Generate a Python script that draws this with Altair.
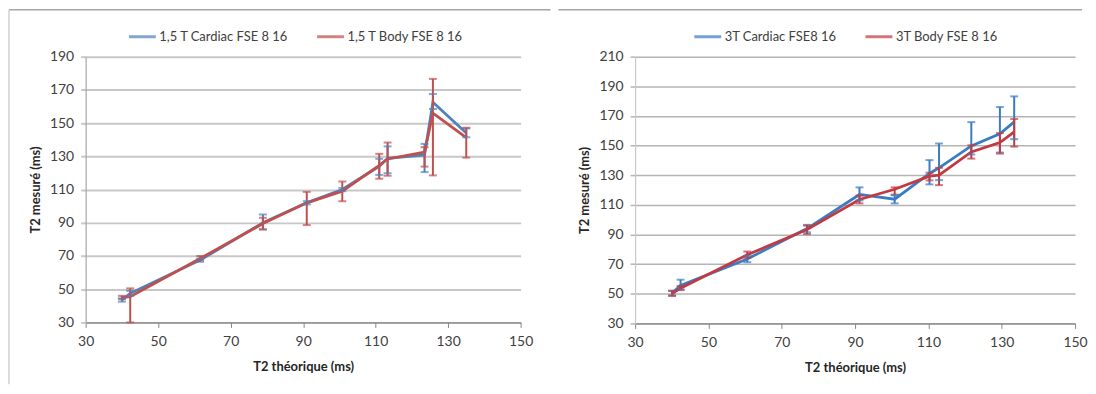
import altair as alt
import pandas as pd

# ---------------- data: left panel (1,5 T) ----------------
x15 = [40.0, 42.3, 61.6, 78.9, 91.0, 100.8, 111.0, 113.3, 123.5, 125.8, 135.0]
card15 = [43.5, 47.5, 67.5, 90.0, 102.0, 110.0, 124.0, 128.8, 130.8, 162.5, 144.0]
card15_lo = [42.5, 46.0, 66.5, 86.0, 101.0, 109.0, 118.8, 119.8, 120.5, 158.5, 141.5]
card15_hi = [44.5, 49.0, 68.5, 95.0, 103.0, 111.0, 128.5, 136.0, 137.5, 167.5, 146.8]
body15 = [45.0, 45.5, 68.5, 89.5, 102.0, 109.0, 124.5, 128.4, 132.5, 156.0, 141.2]
body15_lo = [44.0, 30.0, 67.5, 86.0, 88.6, 103.0, 116.5, 118.3, 123.8, 118.5, 129.2]
body15_hi = [46.0, 50.5, 70.0, 93.0, 108.6, 114.8, 131.5, 138.3, 135.5, 176.6, 147.2]
names15 = ["1,5 T Cardiac FSE 8 16", "1,5 T Body FSE 8 16"]

# ---------------- data: right panel (3 T) ----------------
x3 = [40.1, 42.4, 60.6, 76.9, 91.2, 100.8, 110.3, 112.9, 121.7, 129.5, 133.4]
card3 = [50.5, 55.6, 73.5, 94.0, 117.0, 113.8, 131.2, 135.0, 149.8, 158.0, 166.0]
card3_lo = [49.0, 53.0, 71.3, 91.5, 113.0, 111.0, 123.8, 126.7, 144.0, 145.3, 154.3]
card3_hi = [52.0, 59.5, 75.5, 96.5, 121.8, 116.5, 140.2, 151.4, 165.8, 176.0, 183.2]
body3 = [50.2, 53.8, 76.3, 93.3, 113.6, 120.5, 129.4, 130.0, 145.7, 152.0, 159.3]
body3_lo = [48.5, 52.5, 74.3, 90.3, 111.0, 116.9, 126.5, 123.3, 141.2, 144.6, 149.3]
body3_hi = [52.0, 55.3, 78.5, 96.0, 116.2, 121.8, 131.7, 135.0, 150.2, 158.4, 167.9]
names3 = ["3T Cardiac FSE8 16", "3T Body FSE 8 16"]

x_ticks = [30, 50, 70, 90, 110, 130, 150]
y_ticks15 = [30, 50, 70, 90, 110, 130, 150, 170, 190]
y_ticks3 = [30, 50, 70, 90, 110, 130, 150, 170, 190, 210]

FONT = "Lato"


def make_df(x, c, clo, chi, b, blo, bhi, names):
    rows = []
    for i in range(len(x)):
        rows.append({"x": x[i], "y": c[i], "lo": clo[i], "hi": chi[i], "s": names[0], "o": i})
    for i in range(len(x)):
        rows.append({"x": x[i], "y": b[i], "lo": blo[i], "hi": bhi[i], "s": names[1], "o": i})
    return pd.DataFrame(rows)


def panel(df, names, yticks, w, h, colors, grid_color, grid_w, ydom_color,
          legend_x, top_x2):
    xs = alt.Scale(domain=[30, 150], nice=False, zero=False)
    ys = alt.Scale(domain=[yticks[0], yticks[-1]], nice=False, zero=False)
    xaxis = alt.Axis(values=x_ticks, grid=False, title="T2 théorique (ms)",
                     domainColor="#868686", domainWidth=1.2, tickColor="#868686",
                     tickSize=5, labelFont=FONT, labelFontSize=14, labelColor="#404040",
                     labelPadding=7, labelFlush=False, labelOverlap=False,
                     titleFont=FONT, titleFontSize=13, titleFontWeight="bold",
                     titleColor="#262626", titlePadding=12)
    yaxis = alt.Axis(values=yticks, grid=True, gridColor=grid_color, gridWidth=grid_w,
                     title="T2 mesuré (ms)", domainColor=ydom_color, domainWidth=1.2,
                     tickColor=grid_color, tickSize=5, tickWidth=grid_w,
                     labelFont=FONT, labelFontSize=14, labelColor="#404040",
                     labelPadding=7, labelOverlap=False,
                     titleFont=FONT, titleFontSize=13, titleFontWeight="bold",
                     titleColor="#262626", titlePadding=7)
    legend = alt.Legend(orient="none", legendX=legend_x, legendY=-35,
                        direction="horizontal", title=None, symbolType="stroke",
                        symbolSize=729, symbolStrokeWidth=3, labelFont=FONT,
                        labelFontSize=13, labelColor="#404040", columnPadding=22,
                        labelOffset=2)
    color = alt.Color("s:N", scale=alt.Scale(domain=names, range=colors), legend=legend)

    base = alt.Chart(df)
    line = base.mark_line(strokeWidth=2.8).encode(
        x=alt.X("x:Q", scale=xs, axis=xaxis),
        y=alt.Y("y:Q", scale=ys, axis=yaxis),
        color=color, order="o:Q")
    rule = base.mark_rule(strokeWidth=2).encode(
        x=alt.X("x:Q", scale=xs, axis=xaxis),
        y=alt.Y("lo:Q", scale=ys, axis=yaxis), y2="hi:Q", color=color)
    cap_lo = base.mark_tick(orient="horizontal", size=8, thickness=2).encode(
        x=alt.X("x:Q", scale=xs, axis=xaxis),
        y=alt.Y("lo:Q", scale=ys, axis=yaxis), color=color)
    cap_hi = base.mark_tick(orient="horizontal", size=8, thickness=2).encode(
        x=alt.X("x:Q", scale=xs, axis=xaxis),
        y=alt.Y("hi:Q", scale=ys, axis=yaxis), color=color)
    frame = alt.Chart(pd.DataFrame({"k": [0]})).mark_rule(
        color="#a6a6a6", strokeWidth=1.5).encode(
        x=alt.value(-77), x2=alt.value(top_x2), y=alt.value(-47))
    layers = [frame, line, rule, cap_lo, cap_hi]
    return alt.layer(*layers).properties(width=w, height=h)


df15 = make_df(x15, card15, card15_lo, card15_hi, body15, body15_lo, body15_hi, names15)
df3 = make_df(x3, card3, card3_lo, card3_hi, body3, body3_lo, body3_hi, names3)

left = panel(df15, names15, y_ticks15, 437, 267, ["#4f81bd", "#c0504d"],
             "#c8c8c8", 2, "#a6a6a6", 42, 467)
left_border = alt.Chart(pd.DataFrame({"k": [0]})).mark_rule(
    color="#d0d0d0", strokeWidth=1.5).encode(
    x=alt.value(-77), y=alt.value(-47), y2=alt.value(329))
left = alt.layer(left, left_border)

right = panel(df3, names3, y_ticks3, 442, 268, ["#3a7cc3", "#c23a40"],
              "#b4b4b4", 1.5, "#c8c8c8", 58, 449)

chart = alt.hconcat(left, right, spacing=115, bounds="flush").resolve_scale(
    color="independent").properties(padding=0, background="white").configure_view(
    stroke=None)

chart.save("out.html", embed_options={"renderer": "svg", "actions": False})
